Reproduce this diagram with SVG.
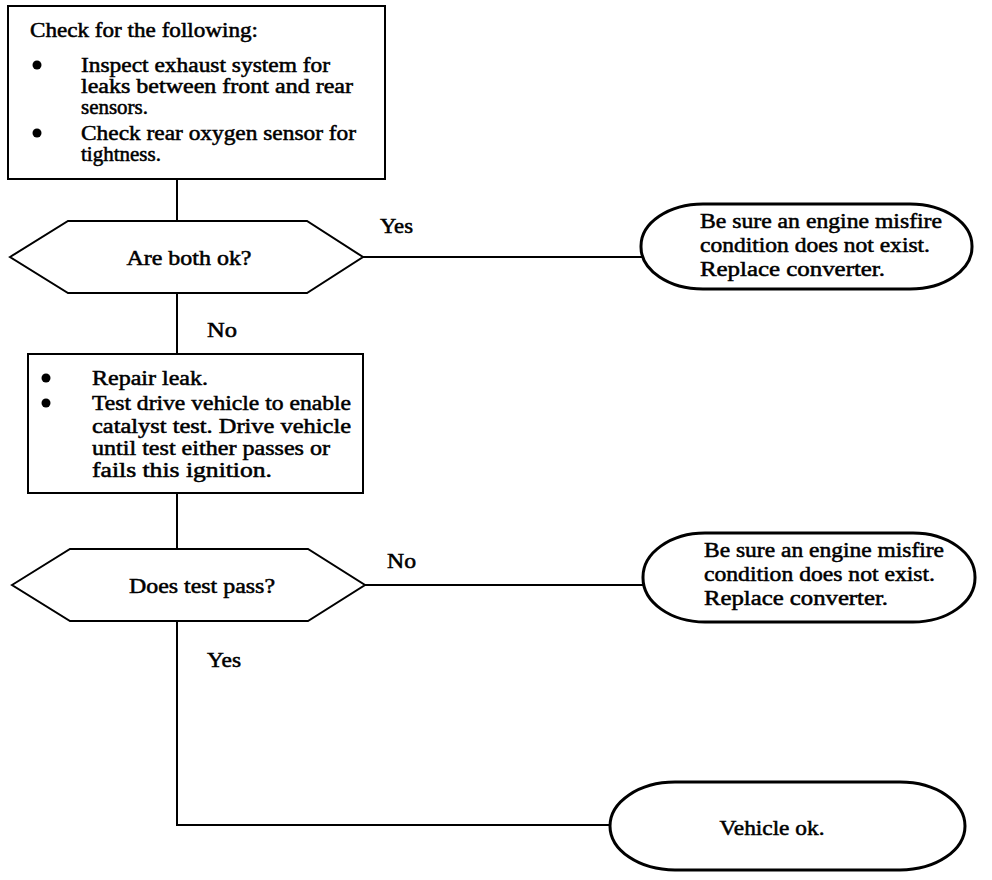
<svg xmlns="http://www.w3.org/2000/svg" width="992" height="880" viewBox="0 0 992 880">
<style>
.box{fill:#fff;stroke:#000;stroke-width:2}
.term{fill:#fff;stroke:#000;stroke-width:3}
.t{font-family:"Liberation Serif","DejaVu Serif",serif;font-size:20px;fill:#000;stroke:#000;stroke-width:0.5}
.c{text-anchor:middle}
.bul{fill:#000}
.conn{fill:none;stroke:#000;stroke-width:2}
</style>
<rect width="992" height="880" fill="#fff"/>
<g id="connectors">
<path class="conn" d="M177 179V221"/>
<path class="conn" d="M363 257H643"/>
<path class="conn" d="M177 293V354"/>
<path class="conn" d="M177 493V549"/>
<path class="conn" d="M365 585H644"/>
<path class="conn" d="M177 621V825H611"/>
<text class="t" x="380" y="233" textLength="33" lengthAdjust="spacingAndGlyphs">Yes</text>
<text class="t" x="207" y="337" textLength="30" lengthAdjust="spacingAndGlyphs">No</text>
<text class="t" x="387" y="568" textLength="29" lengthAdjust="spacingAndGlyphs">No</text>
<text class="t" x="207" y="667" textLength="34" lengthAdjust="spacingAndGlyphs">Yes</text>
</g>
<g id="check">
<rect class="box" x="8" y="6" width="377" height="173"/>
<text class="t" x="30" y="37" textLength="228" lengthAdjust="spacingAndGlyphs">Check for the following:</text>
<circle class="bul" cx="37" cy="65" r="4.5"/>
<text class="t" x="81" y="72" textLength="249" lengthAdjust="spacingAndGlyphs">Inspect exhaust system for</text>
<text class="t" x="81" y="93" textLength="272" lengthAdjust="spacingAndGlyphs">leaks between front and rear</text>
<text class="t" x="81" y="114" textLength="67" lengthAdjust="spacingAndGlyphs">sensors.</text>
<circle class="bul" cx="37" cy="133" r="4.5"/>
<text class="t" x="81" y="140" textLength="275" lengthAdjust="spacingAndGlyphs">Check rear oxygen sensor for</text>
<text class="t" x="81" y="161" textLength="80" lengthAdjust="spacingAndGlyphs">tightness.</text>
</g>
<g id="q1">
<polygon class="box" points="10,257 68,221 307,221 363,257 307,293 68,293"/>
<text class="t c" x="189" y="265" textLength="125" lengthAdjust="spacingAndGlyphs">Are both ok?</text>
</g>
<g id="end1">
<rect class="term" x="641" y="204" width="331" height="85" rx="62" ry="42"/>
<text class="t" x="700" y="228" textLength="242" lengthAdjust="spacingAndGlyphs">Be sure an engine misfire</text>
<text class="t" x="700" y="252" textLength="230" lengthAdjust="spacingAndGlyphs">condition does not exist.</text>
<text class="t" x="700" y="276" textLength="185" lengthAdjust="spacingAndGlyphs">Replace converter.</text>
</g>
<g id="repair">
<rect class="box" x="28" y="354" width="335" height="139"/>
<circle class="bul" cx="46" cy="378" r="4.5"/>
<text class="t" x="92" y="385" textLength="116" lengthAdjust="spacingAndGlyphs">Repair leak.</text>
<circle class="bul" cx="46" cy="403" r="4.5"/>
<text class="t" x="92" y="410" textLength="259" lengthAdjust="spacingAndGlyphs">Test drive vehicle to enable</text>
<text class="t" x="92" y="433" textLength="259" lengthAdjust="spacingAndGlyphs">catalyst test. Drive vehicle</text>
<text class="t" x="92" y="455" textLength="238" lengthAdjust="spacingAndGlyphs">until test either passes or</text>
<text class="t" x="92" y="477" textLength="180" lengthAdjust="spacingAndGlyphs">fails this ignition.</text>
</g>
<g id="q2">
<polygon class="box" points="12,585 70,549 308,549 365,585 308,621 70,621"/>
<text class="t c" x="202" y="593" textLength="146" lengthAdjust="spacingAndGlyphs">Does test pass?</text>
</g>
<g id="end2">
<rect class="term" x="643" y="533" width="332" height="89" rx="62" ry="44"/>
<text class="t" x="704" y="557" textLength="240" lengthAdjust="spacingAndGlyphs">Be sure an engine misfire</text>
<text class="t" x="704" y="581" textLength="231" lengthAdjust="spacingAndGlyphs">condition does not exist.</text>
<text class="t" x="704" y="605" textLength="184" lengthAdjust="spacingAndGlyphs">Replace converter.</text>
</g>
<g id="end3">
<rect class="term" x="610" y="782" width="355" height="88" rx="65" ry="44"/>
<text class="t c" x="772" y="835" textLength="105" lengthAdjust="spacingAndGlyphs">Vehicle ok.</text>
</g>
</svg>
